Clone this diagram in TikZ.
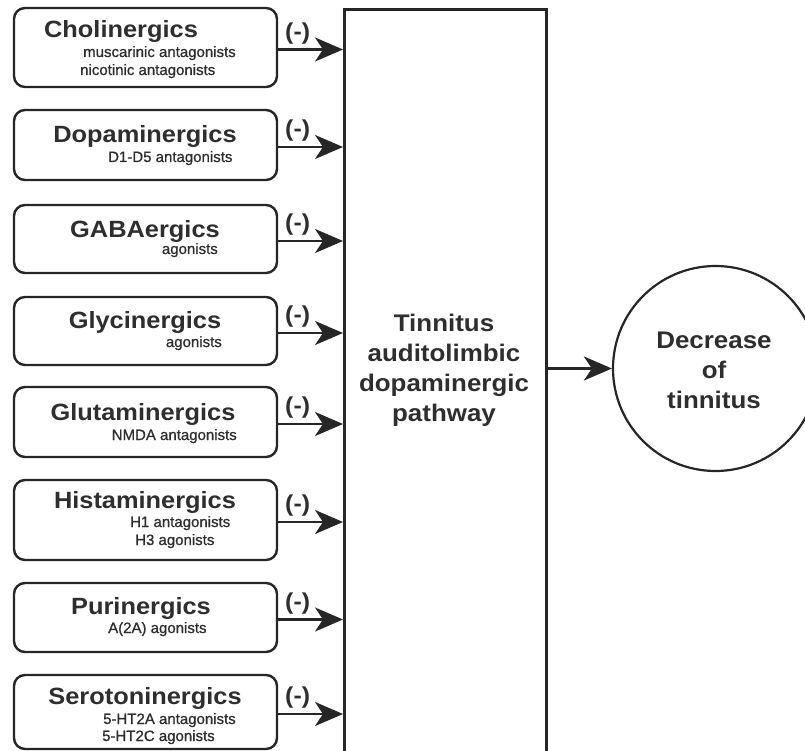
\documentclass[tikz,border=0pt]{standalone}
\usepackage{fontspec}
\setmainfont{Liberation Sans}
\newfontfamily\bigfont[FakeStretch=1.08]{Liberation Sans}
\newfontfamily\subfont[FakeBold=0.8]{Liberation Sans}
\usetikzlibrary{arrows.meta,calc}
\definecolor{ink}{HTML}{262626}
\definecolor{txt}{HTML}{2E2E2E}
\tikzset{
  drug/.style={draw=ink, line width=2.4pt, rounded corners=11pt, minimum width=263pt, inner sep=0pt, fill=white},
  ttl/.style={text=txt, inner sep=0pt, font=\bigfont\bfseries\fontsize{23.5}{28}\selectfont},
  sub/.style={text=txt, inner sep=0pt, font=\subfont\fontsize{15}{18}\selectfont},
  neg/.style={text=txt, inner sep=0pt, font=\bigfont\bfseries\fontsize{23}{26}\selectfont},
  bigtxt/.style={text=txt, inner sep=0pt, align=center, font=\bigfont\bfseries\fontsize{24}{30}\selectfont},
  arr/.style={draw=ink, line width=2.5pt, -{Stealth[length=28pt,width=24pt,inset=8pt]}},
}
\begin{document}
\begin{tikzpicture}[x=1pt,y=-1pt]
\useasboundingbox (0,0) rectangle (805,751);
\clip (0,0) rectangle (805,751);
\fill[white] (0,0) rectangle (805,751);
% main pathway box
\node[draw=ink, line width=2.6pt, minimum width=202pt, minimum height=800pt, inner sep=0pt, anchor=north west] (main) at (343,8) {};
\node[bigtxt] (maintxt) at (444,370) {Tinnitus\\auditolimbic\\dopaminergic\\pathway};
% outcome circle
\node[draw=ink, line width=2.2pt, circle, minimum size=205pt, inner sep=0pt] (out) at (715.5,368.5) {};
\node[bigtxt] (outtxt) at (714,370) {Decrease\\of\\tinnitus};
\draw[arr] (main.east |- out.west) -- (out.west);
% drug class boxes
\node[drug, minimum height=79pt] (b1) at (145.5,47.5) {};
\node[drug, minimum height=70pt] (b2) at (145.5,145) {};
\node[drug, minimum height=68pt] (b3) at (145.5,239) {};
\node[drug, minimum height=68pt] (b4) at (145.5,331) {};
\node[drug, minimum height=70pt] (b5) at (145.5,422) {};
\node[drug, minimum height=80pt] (b6) at (145.5,520) {};
\node[drug, minimum height=69pt] (b7) at (145.5,617.5) {};
\node[drug, minimum height=74pt] (b8) at (145.5,712) {};
% titles
\node[ttl, anchor=base] (t1) at (121,38) {Cholinergics};
\node[ttl, anchor=base] (t2) at (145,143) {Dopaminergics};
\node[ttl, anchor=base] (t3) at (145,237) {GABAergics};
\node[ttl, anchor=base] (t4) at (145,328) {Glycinergics};
\node[ttl, anchor=base] (t5) at (143,420) {Glutaminergics};
\node[ttl, anchor=base] (t6) at (145,508) {Histaminergics};
\node[ttl, anchor=base] (t7) at (141,614) {Purinergics};
\node[ttl, anchor=base] (t8) at (145,704) {Serotoninergics};
% sub texts
\node[sub, anchor=base west] (s1a) at (83,57) {muscarinic antagonists};
\node[sub, anchor=base west] (s1b) at (80,75) {nicotinic antagonists};
\node[sub, anchor=base west] (s2) at (108,162) {D1-D5 antagonists};
\node[sub, anchor=base east] (s3) at (218,254) {agonists};
\node[sub, anchor=base east] (s4) at (222,347) {agonists};
\node[sub, anchor=base east] (s5) at (237,440) {NMDA antagonists};
\node[sub, anchor=base west] (s6a) at (130,527) {H1 antagonists};
\node[sub, anchor=base west] (s6b) at (135,545) {H3 agonists};
\node[sub, anchor=base west] (s7) at (108,633) {A(2A) agonists};
\node[sub, anchor=base west] (s8a) at (103,724) {5-HT2A antagonists};
\node[sub, anchor=base west] (s8b) at (102,741) {5-HT2C agonists};
% inhibitory arrows
\foreach \i in {1,...,8}{
  \draw[arr] ([yshift=-2pt]b\i.east) -- ([yshift=-2pt]b\i.east -| main.west)
    node[neg, pos=0.3, above=4pt] {(-)};
}
\end{tikzpicture}
\end{document}
